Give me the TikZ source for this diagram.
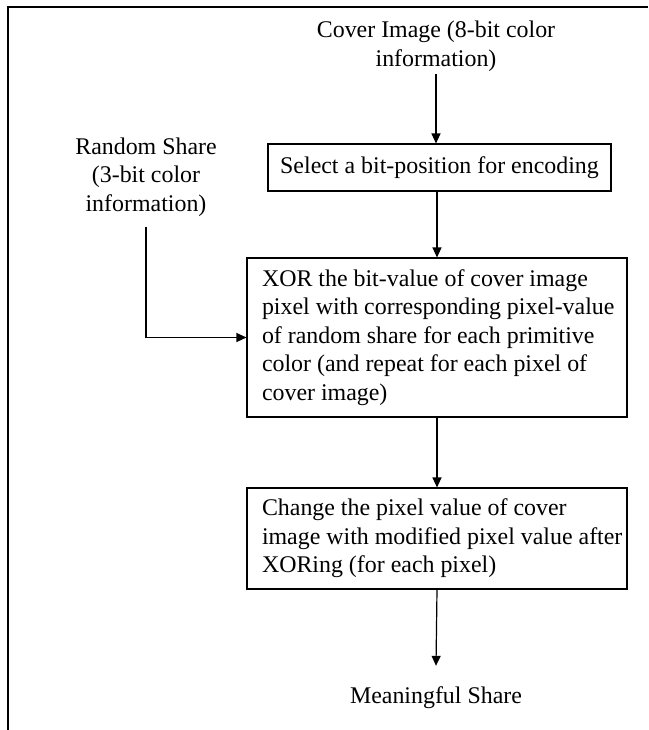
\documentclass[tikz,border=0pt]{standalone}
\usepackage{fontspec}
\setmainfont{Liberation Serif}
\usetikzlibrary{arrows.meta}
\begin{document}
\begin{tikzpicture}[x=1pt,y=-1pt,
  font=\fontsize{23.9}{28.6}\selectfont,
  flowbox/.style={draw, line width=1.1pt},
  stepbox/.style={flowbox, text width=380pt, inner xsep=0pt, align=left,
    execute at begin node={\leftskip=15pt\rightskip=0pt plus 1fil\spaceskip=0pt\xspaceskip=0pt\relax}},
  lbltext/.style={align=center, inner xsep=0pt,
    execute at begin node={\spaceskip=0pt\xspaceskip=0pt\relax}},
  conn/.style={line width=1.2pt, -{Triangle[length=10pt,width=9pt]}}
]
\useasboundingbox (0,0) rectangle (648,730);
% outer frame (left and top edges)
\draw[line width=1.8pt] (8,730) -- (8,7) -- (648,7);

% inputs
\node[lbltext, inner ysep=3pt] (cover) at (436,46) {Cover Image (8-bit color\\information)};
\node[lbltext, inner ysep=10pt] (rs) at (146,177) {Random Share\\(3-bit color\\information)};

% processing steps
\node[flowbox, minimum width=343pt, minimum height=47pt, inner sep=0pt] (sel) at (439.5,167.5)
  {Select a bit-position for encoding};
\node[stepbox, minimum height=159pt] (xor) at (437,337.5)
  {XOR the bit-value of cover image\\
   pixel with corresponding pixel-value\\
   of random share for each primitive\\
   color (and repeat for each pixel of\\
   cover image)};
\node[stepbox, minimum height=101pt] (chg) at (437,538.5)
  {Change the pixel value of cover\\
   image with modified pixel value after\\
   XORing (for each pixel)};

% output
\node[lbltext, inner ysep=20.5pt] (ms) at (436,697.5) {Meaningful Share};

% connectors
\draw[conn] (cover.south) -- (cover.south |- sel.north);
\draw[conn] (xor.north |- sel.south) -- (xor.north);
\draw[conn] (rs.south) |- (xor.west);
\draw[conn] (xor.south) -- (chg.north);
\draw[conn] (chg.south) -- (ms.north);
\end{tikzpicture}
\end{document}
